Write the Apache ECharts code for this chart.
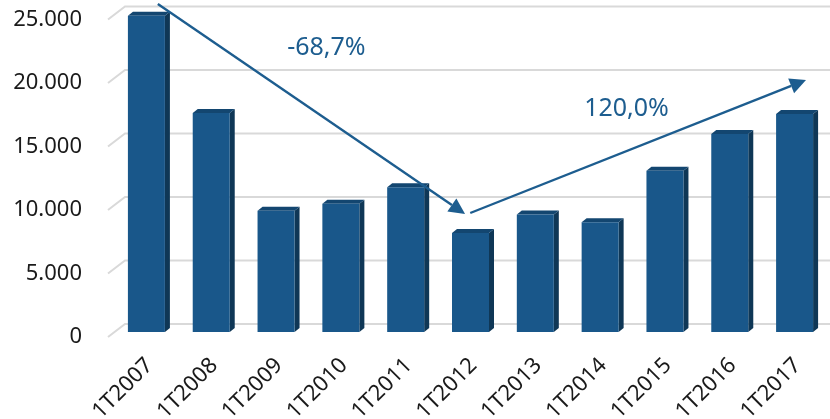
<!DOCTYPE html>
<html>
<head>
<meta charset="utf-8">
<style>
    html, body { margin: 0; padding: 0; background: #fff; }
    #chart { width: 830px; height: 419px; }
</style>
<script src="https://cdn.jsdelivr.net/npm/echarts@6/dist/echarts.min.js"></script>
</head>
<body>
<div id="chart"></div>
<script>
var categories = ['1T2007', '1T2008', '1T2009', '1T2010', '1T2011', '1T2012',
    '1T2013', '1T2014', '1T2015', '1T2016', '1T2017'];
var values = [24900, 17250, 9550, 10100, 11400, 7800, 9250, 8650, 12700, 15600, 17160];
var yTicks = [0, 5000, 10000, 15000, 20000, 25000];

// arrows: [category position, value] for start and end
var arrowFrom = [[0.13, 25200], [4.95, 8740]];
var arrowTo = [[4.87, 8660], [10.13, 19210]];
var arrowText = ['-68,7%', '120,0%'];
var textPos = [[2.73, 21730], [7.36, 16930]];

var FRONT = '#19578a';
var SIDE = '#0f3756';
var TOP = '#134670';
var BLUE = '#1d5d8f';

function toPixel(api, pos) {
    var i = Math.floor(pos[0]);
    var p = api.coord([i, pos[1]]);
    var band = api.size([1, 0])[0];
    return [p[0] + (pos[0] - i) * band, p[1]];
}

function renderGridLine(params, api) {
    var p = api.coord([0, api.value(1)]);
    var band = api.size([1, 0])[0];
    var left = p[0] - band / 2;
    var right = left + band * categories.length;
    return {
        type: 'polyline',
        shape: {points: [[left - 9, p[1] + 13], [left + 8, p[1]], [right, p[1]]]},
        style: {stroke: '#d9d9d9', lineWidth: 2, fill: null}
    };
}

function renderBar(params, api) {
    var c = api.coord([api.value(0), api.value(1)]);
    var base = api.coord([api.value(0), 0]);
    var w = 37, d = 5, h = 4, dx = -3, dy = 8;
    var x0 = c[0] - w / 2 + dx;
    var x1 = x0 + w;
    var top = c[1] + dy;
    var bot = base[1] + dy;
    return {
        type: 'group',
        children: [
            {
                type: 'polygon',
                shape: {points: [[x1, top], [x1 + d, top - h], [x1 + d, bot - h], [x1, bot]]},
                style: {fill: SIDE}
            },
            {
                type: 'polygon',
                shape: {points: [[x0, top], [x0 + d, top - h], [x1 + d, top - h], [x1, top]]},
                style: {fill: TOP}
            },
            {
                type: 'rect',
                shape: {x: x0, y: top, width: w, height: bot - top},
                style: {fill: FRONT}
            }
        ]
    };
}

function renderArrow(params, api) {
    var i = params.dataIndex;
    var a = toPixel(api, arrowFrom[i]);
    var b = toPixel(api, arrowTo[i]);
    var t = toPixel(api, textPos[i]);
    var ang = Math.atan2(b[1] - a[1], b[0] - a[0]);
    var len = 16, half = 8;
    var bx = b[0] - len * Math.cos(ang);
    var by = b[1] - len * Math.sin(ang);
    var nx = -Math.sin(ang) * half;
    var ny = Math.cos(ang) * half;
    return {
        type: 'group',
        children: [
            {
                type: 'line',
                shape: {x1: a[0], y1: a[1], x2: bx, y2: by},
                style: {stroke: BLUE, lineWidth: 2.4}
            },
            {
                type: 'polygon',
                shape: {points: [[b[0], b[1]], [bx + nx, by + ny], [bx - nx, by - ny]]},
                style: {fill: BLUE}
            },
            {
                type: 'text',
                x: t[0],
                y: t[1],
                style: {
                    text: arrowText[i],
                    fill: BLUE,
                    font: '25px "Noto Sans"',
                    align: 'center',
                    verticalAlign: 'middle'
                }
            }
        ]
    };
}

var myChart = echarts.init(document.getElementById('chart'));

var option = {
    animation: false,
    grid: {left: 117, right: 0, top: 6.5, bottom: 95, outerBoundsMode: 'none'},
    xAxis: {
        type: 'category',
        data: categories,
        axisLine: {show: false},
        axisTick: {show: false},
        axisLabel: {
            rotate: 45,
            interval: 0,
            margin: 38,
            fontFamily: 'Noto Sans',
            fontSize: 22,
            color: '#1a1a1a'
        }
    },
    yAxis: {
        type: 'value',
        min: 0,
        max: 25000,
        interval: 5000,
        splitLine: {show: false},
        axisLabel: {
            margin: 35,
            lineHeight: 26,
            fontFamily: 'Noto Sans',
            fontSize: 22,
            color: '#1a1a1a',
            formatter: function(v) {
                // empty first line pushes the label down to the floor edge
                return ' \n' + String(v).replace(/\B(?=(\d{3})+(?!\d))/g, '.');
            }
        }
    },
    series: [
        {
            type: 'custom',
            z: 1,
            silent: true,
            renderItem: renderGridLine,
            data: yTicks.map(function(t) { return [0, t]; })
        },
        {
            type: 'custom',
            z: 2,
            renderItem: renderBar,
            data: values.map(function(v, i) { return [i, v]; })
        },
        {
            type: 'custom',
            z: 3,
            silent: true,
            renderItem: renderArrow,
            data: arrowFrom.map(function(p, i) { return [i, 0]; })
        }
    ]
};
myChart.setOption(option);
</script>
</body>
</html>
